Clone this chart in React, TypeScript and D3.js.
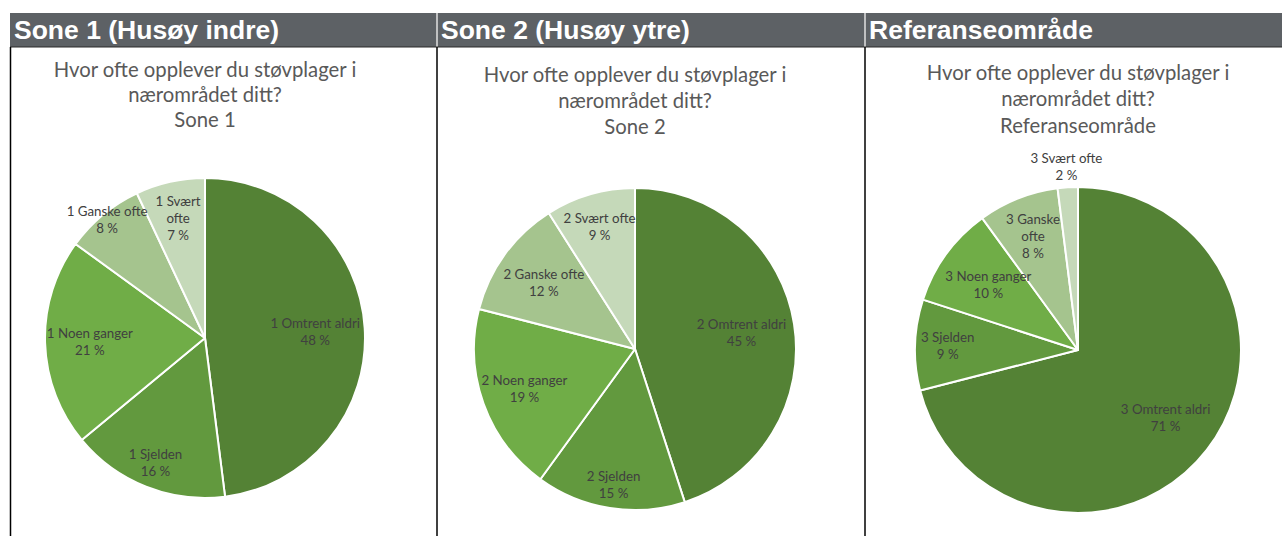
import React, { useEffect } from "react";
import * as d3 from "d3";

const categories = ["Omtrent aldri", "Sjelden", "Noen ganger", "Ganske ofte", "Svært ofte"];
const sone1Values = [48, 16, 21, 8, 7];
const sone2Values = [45, 15, 19, 12, 9];
const refValues = [71, 9, 10, 8, 2];
const headerLabels = ["Sone 1 (Husøy indre)", "Sone 2 (Husøy ytre)", "Referanseområde"];
const titleLines = ["Hvor ofte opplever du støvplager i", "nærområdet ditt?"];
const subtitles = ["Sone 1", "Sone 2", "Referanseområde"];
const prefixes = ["1", "2", "3"];

const sliceColors = ["#548235", "#62993e", "#70ad47", "#a5c48e", "#c5d9b9"];

const W = 1282;
const H = 536;

const panels = [
  {
    values: sone1Values,
    x0: 10,
    x1: 437,
    cx: 205,
    cy: 338,
    r: 160,
    titleY: [77, 102, 127],
    labelR: [0.69, 0.84, 0.72, 0.96, 0.77],
    wrap: [false, false, false, false, true],
  },
  {
    values: sone2Values,
    x0: 437,
    x1: 865,
    cx: 635,
    cy: 349,
    r: 161,
    titleY: [82, 108, 134],
    labelR: [0.67, 0.85, 0.73, 0.7, 0.79],
    wrap: [false, false, false, false, false],
  },
  {
    values: refValues,
    x0: 865,
    x1: 1282,
    cx: 1078,
    cy: 350,
    r: 163,
    titleY: [80, 106, 133],
    labelR: [0.68, 0.8, 0.68, 0.75, 1.13],
    wrap: [false, false, false, true, false],
  },
];

function PiePanel({ p, idx }: { p: any; idx: number }) {
  const pie = d3.pie<number>().sort(null).value((d) => d);
  const arcs = pie(p.values);
  const arc = d3.arc<any>().innerRadius(0).outerRadius(p.r);
  const lineH = 17;
  return (
    <g>
      <g fontFamily="Lato, 'Open Sans', sans-serif" fill="#595959" fontSize={20.3} textAnchor="middle">
        <text x={p.cx} y={p.titleY[0]}>{titleLines[0]}</text>
        <text x={p.cx} y={p.titleY[1]}>{titleLines[1]}</text>
        <text x={p.cx} y={p.titleY[2]}>{subtitles[idx]}</text>
      </g>
      <g transform={`translate(${p.cx},${p.cy})`}>
        {arcs.map((a, i) => (
          <path key={i} d={arc(a) as string} fill={sliceColors[i]} stroke="#ffffff" strokeWidth={2} strokeLinejoin="round" />
        ))}
        {arcs.map((a, i) => {
          const mid = (a.startAngle + a.endAngle) / 2;
          const rr = p.r * p.labelR[i];
          const x = Math.sin(mid) * rr;
          const y = -Math.cos(mid) * rr;
          const name = `${prefixes[idx]} ${categories[i]}`;
          let lines: string[];
          if (p.wrap[i]) {
            const parts = name.split(" ");
            lines = [parts.slice(0, 2).join(" "), parts.slice(2).join(" "), `${p.values[i]} %`];
          } else {
            lines = [name, `${p.values[i]} %`];
          }
          const y0 = y - ((lines.length - 1) * lineH) / 2;
          return (
            <text key={`l${i}`} x={x} y={y0} fontFamily="Lato, 'Open Sans', sans-serif" fontSize={13.3} fill="#404040" textAnchor="middle" dominantBaseline="central">
              {lines.map((ln, j) => (
                <tspan key={j} x={x} y={y0 + j * lineH}>{ln}</tspan>
              ))}
            </text>
          );
        })}
      </g>
    </g>
  );
}

export default function App() {
  useEffect(() => {
    document.body.style.margin = "0";
  }, []);
  return (
    <svg width={W} height={H} style={{ display: "block", position: "absolute", left: 0, top: 0 }}>
      <rect x={0} y={0} width={W} height={H} fill="#ffffff" />
      {/* header bar */}
      <rect x={10} y={13} width={W - 10} height={34} fill="#5d6165" />
      {panels.map((p, i) => (
        <text key={`h${i}`} x={p.x0 + 4} y={39} fill="#ffffff" fontFamily="'Liberation Sans', Arial, sans-serif" fontWeight="bold" fontSize={26.5}>
          {headerLabels[i]}
        </text>
      ))}
      {panels.slice(1).map((p, i) => (
        <line key={`s${i}`} x1={p.x0} x2={p.x0} y1={13} y2={47} stroke="#e0e0e0" strokeWidth={1.5} />
      ))}
      <line x1={10} x2={W} y1={47} y2={47} stroke="#2b2b2b" strokeWidth={1.2} />
      <line x1={10.5} x2={10.5} y1={47} y2={H} stroke="#000" strokeWidth={1.5} />
      {panels.slice(1).map((p, i) => (
        <line key={`b${i}`} x1={p.x0} x2={p.x0} y1={47} y2={H} stroke="#000" strokeWidth={1.5} />
      ))}
      {panels.map((p, i) => (
        <PiePanel key={i} p={p} idx={i} />
      ))}
    </svg>
  );
}
